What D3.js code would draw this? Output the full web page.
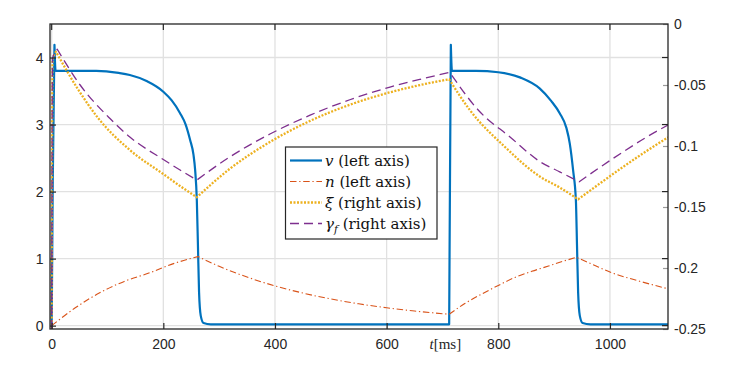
<!DOCTYPE html>
<html><head><meta charset="utf-8">
<script src="https://cdn.jsdelivr.net/npm/d3@7"></script>
<style>body{margin:0;background:#fff}</style>
</head><body>
<svg id="chart" width="739" height="370"></svg>
<script>
// ---- data ----
const vTime   = [0, 2, 5, 7, 30, 80, 120, 140, 170, 200, 215, 230, 240, 248, 254, 257, 260, 262, 264, 267, 272, 285, 712, 713.5, 715, 717, 760, 800, 840, 874, 895, 910, 922, 928, 934, 939, 941, 943, 946, 951, 965, 1104];
const vValues = [0, 2.2, 4.19, 3.8, 3.8, 3.8, 3.77, 3.74, 3.65, 3.49, 3.36, 3.17, 3.0, 2.77, 2.55, 2.32, 1.87, 1.2, 0.5, 0.15, 0.04, 0.02, 0.02, 2.2, 4.19, 3.8, 3.8, 3.78, 3.7, 3.54, 3.35, 3.17, 2.95, 2.72, 2.32, 1.87, 1.2, 0.5, 0.15, 0.04, 0.02, 0.02];

const nTime   = [0, 43, 86, 130, 176, 220, 262, 300, 350, 400, 450, 500, 550, 600, 650, 712, 740, 770, 800, 830, 860, 890, 916, 940, 970, 1000, 1050, 1104];
const nValues = [0, 0.27, 0.49, 0.66, 0.79, 0.93, 1.03, 0.885, 0.725, 0.593, 0.486, 0.398, 0.326, 0.267, 0.218, 0.17, 0.33, 0.47, 0.60, 0.72, 0.81, 0.89, 0.96, 1.02, 0.91, 0.80, 0.67, 0.55];

const xiTime   = [0, 1.5, 7.7, 48, 83, 140, 200, 230, 260, 319, 391, 463, 534, 606, 660, 712, 749, 812, 875, 910, 943, 982, 1024, 1063, 1104];
const xiValues = [-0.25, -0.03, -0.0227, -0.0541, -0.0770, -0.1033, -0.1230, -0.1328, -0.1420, -0.1187, -0.0967, -0.0794, -0.0662, -0.0560, -0.0500, -0.0453, -0.0705, -0.1008, -0.1252, -0.1340, -0.1437, -0.1307, -0.1170, -0.1049, -0.0929];

const gammaTime   = [0, 1.5, 10, 51, 104, 140, 200, 230, 260, 319, 391, 463, 534, 606, 660, 713, 764, 821, 875, 910, 945, 982, 1024, 1063, 1104];
const gammaValues = [-0.25, -0.028, -0.0207, -0.0500, -0.0773, -0.0926, -0.1111, -0.1197, -0.1279, -0.1090, -0.0902, -0.0747, -0.0621, -0.0517, -0.0453, -0.0396, -0.0705, -0.0926, -0.1129, -0.1212, -0.1293, -0.1175, -0.1047, -0.0934, -0.0828];

const xTicks = [0, 200, 400, 600, 800, 1000];
const leftTicks = [0, 1, 2, 3, 4];
const rightTicks = [-0.25, -0.2, -0.15, -0.1, -0.05, 0];
const rightTickLabels = ["-0.25", "-0.2", "-0.15", "-0.1", "-0.05", "0"];

// ---- layout ----
const L = 50, R = 668, T = 24, B = 329;
const svg = d3.select('#chart');
svg.append('rect').attr('width', 739).attr('height', 370).attr('fill', '#fff');

const x  = d3.scaleLinear().domain([-3, 1104]).range([L, R]);
const yL = d3.scaleLinear().domain([-0.05, 4.5]).range([B, T]);
const yR = d3.scaleLinear().domain([-0.25, 0]).range([B, T]);

const sansFont = 'Liberation Sans, Arial, Helvetica, sans-serif';
const axisColor = '#262626';

// grid
const grid = svg.append('g');
grid.selectAll('.gx').data(xTicks).join('line')
  .attr('x1', d => x(d)).attr('x2', d => x(d)).attr('y1', T).attr('y2', B)
  .attr('stroke', '#e1e1e1').attr('stroke-width', 1.3);
grid.selectAll('.gy').data(leftTicks).join('line')
  .attr('x1', L).attr('x2', R).attr('y1', d => yL(d)).attr('y2', d => yL(d))
  .attr('stroke', '#e1e1e1').attr('stroke-width', 1.3);

// clip
svg.append('defs').append('clipPath').attr('id', 'plotclip')
  .append('rect').attr('x', L).attr('y', T - 1).attr('width', R - L).attr('height', B - T + 2);

// smooth path, split at local extrema so cusps remain sharp
function smoothPath(ts, vs, ys) {
  const pts = d3.zip(ts, vs);
  const pieces = []; let cur = [pts[0]]; let prev = 0;
  for (let i = 1; i < pts.length; i++) {
    const s = Math.sign(pts[i][1] - pts[i - 1][1]);
    if (s !== 0 && prev !== 0 && s !== prev) { pieces.push(cur); cur = [pts[i - 1]]; }
    cur.push(pts[i]);
    if (s !== 0) prev = s;
  }
  pieces.push(cur);
  const gen = d3.line().x(d => x(d[0])).y(d => ys(d[1])).curve(d3.curveMonotoneX);
  return pieces.map((p, i) => { const s = gen(p); return i ? s.replace(/^M/, 'L') : s; }).join('');
}

const plot = svg.append('g').attr('clip-path', 'url(#plotclip)');
const series = [
  {t: vTime, v: vValues, y: yL, color: '#0072BD', w: 2.2, dash: null},
  {t: nTime, v: nValues, y: yL, color: '#D95319', w: 1.1, dash: '6.5,2.7,1.3,2.7'},
  {t: xiTime, v: xiValues, y: yR, color: '#EDB120', w: 2.3, dash: '2,1.5'},
  {t: gammaTime, v: gammaValues, y: yR, color: '#7E2F8E', w: 1.3, dash: '9,5'}
];
series.forEach(s => {
  plot.append('path').attr('d', smoothPath(s.t, s.v, s.y))
    .attr('fill', 'none').attr('stroke', s.color).attr('stroke-width', s.w)
    .attr('stroke-dasharray', s.dash).attr('stroke-linejoin', 'round');
});

// axes
const gx = svg.append('g').attr('transform', `translate(0,${B})`)
  .call(d3.axisBottom(x).tickValues(xTicks).tickFormat(d3.format('d')).tickSizeInner(-6).tickSizeOuter(0).tickPadding(10));
gx.select('.domain').remove();
gx.selectAll('line').attr('stroke', axisColor).attr('stroke-width', 1.2);
gx.selectAll('text').attr('font-family', sansFont).attr('font-size', 14).attr('fill', axisColor);

svg.append('g').selectAll('line').data(xTicks).join('line')
  .attr('x1', d => x(d)).attr('x2', d => x(d)).attr('y1', T).attr('y2', T + 6)
  .attr('stroke', axisColor).attr('stroke-width', 1.2);

const gl = svg.append('g').attr('transform', `translate(${L},0)`)
  .call(d3.axisLeft(yL).tickValues(leftTicks).tickFormat(d3.format('d')).tickSizeInner(-6).tickSizeOuter(0).tickPadding(6.5));
gl.select('.domain').remove();
gl.selectAll('line').attr('stroke', axisColor).attr('stroke-width', 1.2);
gl.selectAll('text').attr('font-family', sansFont).attr('font-size', 14).attr('fill', axisColor);

svg.append('g').selectAll('line').data(leftTicks).join('line')
  .attr('x1', R - 6).attr('x2', R).attr('y1', d => yL(d)).attr('y2', d => yL(d))
  .attr('stroke', axisColor).attr('stroke-width', 1.2);

const gr = svg.append('g').attr('transform', `translate(${R},0)`)
  .call(d3.axisRight(yR).tickValues(rightTicks).tickFormat((d, i) => rightTickLabels[i])
    .tickSizeInner(-5).tickSizeOuter(0).tickPadding(6));
gr.select('.domain').remove();
gr.selectAll('line').attr('stroke', '#9a9a9a').attr('stroke-width', 1.2);
gr.selectAll('text').attr('font-family', sansFont).attr('font-size', 14).attr('fill', axisColor);

// box
svg.append('rect').attr('x', L).attr('y', T).attr('width', R - L).attr('height', B - T)
  .attr('fill', 'none').attr('stroke', axisColor).attr('stroke-width', 1.3);

// x label
const xl = svg.append('text').attr('x', 429.5).attr('y', 349)
  .attr('font-family', 'Liberation Serif, Times New Roman, serif').attr('font-size', 15).attr('fill', axisColor);
xl.append('tspan').attr('font-style', 'italic').text('t');
xl.append('tspan').text('[ms]');

// legend
const legendSymbols = ['v', 'n', 'ξ', 'γ'];
const legendSubs = ['', '', '', 'f'];
const legendTexts = [' (left axis)', ' (left axis)', ' (right axis)', ' (right axis)'];
const lg = svg.append('g');
lg.append('rect').attr('x', 285.5).attr('y', 147).attr('width', 151.5).attr('height', 92)
  .attr('fill', '#fff').attr('stroke', axisColor).attr('stroke-width', 1.2);
series.forEach((s, i) => {
  const yy = 160.5 + i * 21;
  lg.append('line').attr('x1', 290).attr('x2', 322).attr('y1', yy).attr('y2', yy)
    .attr('stroke', s.color).attr('stroke-width', s.w).attr('stroke-dasharray', s.dash);
  const t = lg.append('text').attr('x', 325).attr('y', yy + 5)
    .attr('font-family', 'DejaVu Serif, serif').attr('font-size', 15).attr('fill', '#111');
  t.append('tspan').attr('font-style', 'italic').text(legendSymbols[i]);
  if (legendSubs[i]) t.append('tspan').attr('font-style', 'italic').attr('font-size', 10.5).attr('dy', 4).text(legendSubs[i]);
  t.append('tspan').attr('dy', legendSubs[i] ? -4 : 0).text(legendTexts[i]);
});
</script>
</body></html>
